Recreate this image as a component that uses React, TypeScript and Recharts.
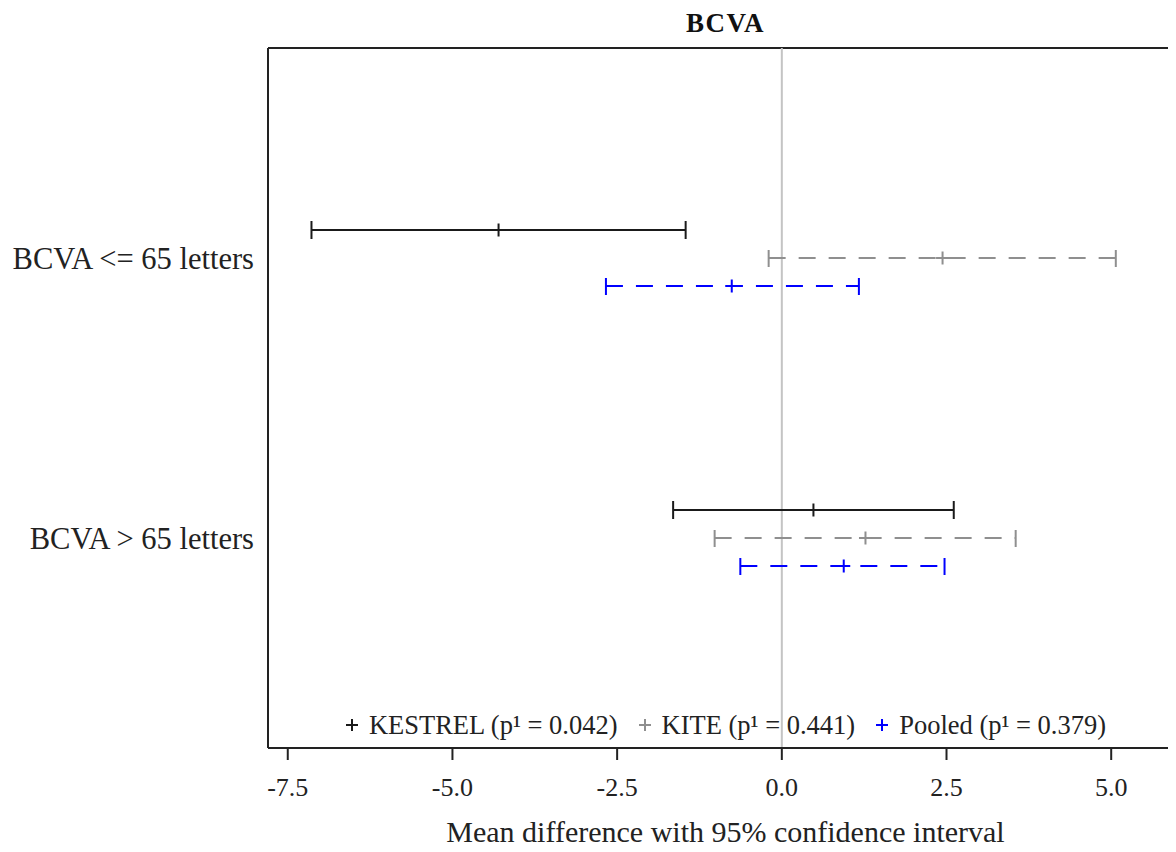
import { ErrorBar, Legend, ReferenceLine, Scatter, ScatterChart, XAxis, YAxis } from 'recharts';

const subgroups = ['BCVA <= 65 letters', 'BCVA > 65 letters'];
const studies = ['KESTREL', 'KITE', 'Pooled'];
const pValues = [0.042, 0.441, 0.379];

// mean difference and 95% CI, one value per subgroup
const kestrelMean = [-4.3, 0.48];
const kestrelLow = [-7.14, -1.65];
const kestrelHigh = [-1.46, 2.61];

const kiteMean = [2.44, 1.27];
const kiteLow = [-0.2, -1.02];
const kiteHigh = [5.07, 3.55];

const pooledMean = [-0.76, 0.94];
const pooledLow = [-2.67, -0.63];
const pooledHigh = [1.17, 2.47];

const xTicks = [-7.5, -5, -2.5, 0, 2.5, 5];

const FONT = '"Liberation Serif", "Times New Roman", serif';
const INK = '#222';

const seriesStyle = [
  { color: '#1a1a1a', dash: undefined as string | undefined, offset: 0.1 },
  { color: '#8f8f8f', dash: '17 13', offset: 0 },
  { color: '#0000ff', dash: '17 13', offset: -0.1 },
];

function buildRows(mean: number[], low: number[], high: number[], offset: number) {
  return mean.map((m, i) => ({
    x: m,
    y: subgroups.length - i + offset,
    err: [m - low[i], high[i] - m],
  }));
}

const seriesData = [
  buildRows(kestrelMean, kestrelLow, kestrelHigh, seriesStyle[0].offset),
  buildRows(kiteMean, kiteLow, kiteHigh, seriesStyle[1].offset),
  buildRows(pooledMean, pooledLow, pooledHigh, seriesStyle[2].offset),
];

function PlusMark({ cx, cy, color }: { cx?: number; cy?: number; color: string }) {
  if (cx == null || cy == null) return null;
  const h = 6.5;
  return (
    <path
      d={`M${cx - h},${cy}H${cx + h}M${cx},${cy - h}V${cy + h}`}
      stroke={color}
      strokeWidth={2}
      fill="none"
    />
  );
}

function renderLegend() {
  return (
    <div
      style={{
        display: 'flex',
        justifyContent: 'center',
        gap: 20,
        fontFamily: FONT,
        fontSize: 26.5,
        color: INK,
        whiteSpace: 'nowrap',
        lineHeight: '30px',
      }}
    >
      {studies.map((s, i) => (
        <span key={s} style={{ display: 'inline-flex', alignItems: 'center' }}>
          <svg width={14} height={14} style={{ marginRight: 10 }}>
            <path d="M1,7H13M7,1V13" stroke={seriesStyle[i].color} strokeWidth={2} fill="none" />
          </svg>
          <span>{`${s} (p¹ = ${pValues[i].toFixed(3)})`}</span>
        </span>
      ))}
    </div>
  );
}

export default function App() {
  return (
    <div style={{ position: 'relative', width: 1168, height: 844, overflow: 'hidden' }}>
      <div
        style={{
          position: 'absolute',
          left: 260,
          width: 915,
          top: 0,
          textAlign: 'center',
          fontFamily: FONT,
          fontWeight: 'bold',
          fontSize: 27,
          letterSpacing: 1.5,
          lineHeight: '30px',
          color: '#111',
        }}
      >
        BCVA
      </div>
      <ScatterChart width={1200} height={844} margin={{ top: 40, right: 25, bottom: 0, left: 0 }}>
        <XAxis
          type="number"
          dataKey="x"
          domain={[-7.8, 6.09]}
          ticks={xTicks}
          allowDataOverflow
          tickFormatter={(v: number) => v.toFixed(1)}
          height={104}
          tickSize={12}
          tickMargin={18}
          axisLine={{ stroke: INK, strokeWidth: 2 }}
          tickLine={{ stroke: INK, strokeWidth: 2 }}
          tick={{ fill: INK, fontSize: 26, fontFamily: FONT }}
          label={{
            value: 'Mean difference with 95% confidence interval',
            position: 'insideBottom',
            offset: 10,
            fill: INK,
            fontSize: 30,
            fontFamily: FONT,
          }}
        />
        <YAxis
          type="number"
          dataKey="y"
          domain={[0.25, 2.75]}
          ticks={[1, 2]}
          tickFormatter={(v: number) => subgroups[subgroups.length - v] ?? ''}
          width={260}
          tickLine={false}
          tickSize={0}
          tickMargin={14}
          axisLine={{ stroke: INK, strokeWidth: 2 }}
          tick={{ fill: INK, fontSize: 30.5, fontFamily: FONT }}
        />
        <ReferenceLine y={2.75} stroke={INK} strokeWidth={2} />
        <ReferenceLine x={0} stroke="#c4c4c4" strokeWidth={2} />
        {studies.map((s, i) => (
          <Scatter
            key={s}
            name={s}
            data={seriesData[i]}
            isAnimationActive={false}
            shape={(p: any) => <PlusMark cx={p.cx} cy={p.cy} color={seriesStyle[i].color} />}
          >
            <ErrorBar
              dataKey="err"
              direction="x"
              width={9}
              stroke={seriesStyle[i].color}
              strokeWidth={2}
              strokeDasharray={seriesStyle[i].dash}
              isAnimationActive={false}
            />
          </Scatter>
        ))}
        <Legend
          layout="horizontal"
          align="center"
          verticalAlign="middle"
          content={renderLegend}
          wrapperStyle={{ left: 260, top: 702, width: 915 }}
        />
      </ScatterChart>
    </div>
  );
}
